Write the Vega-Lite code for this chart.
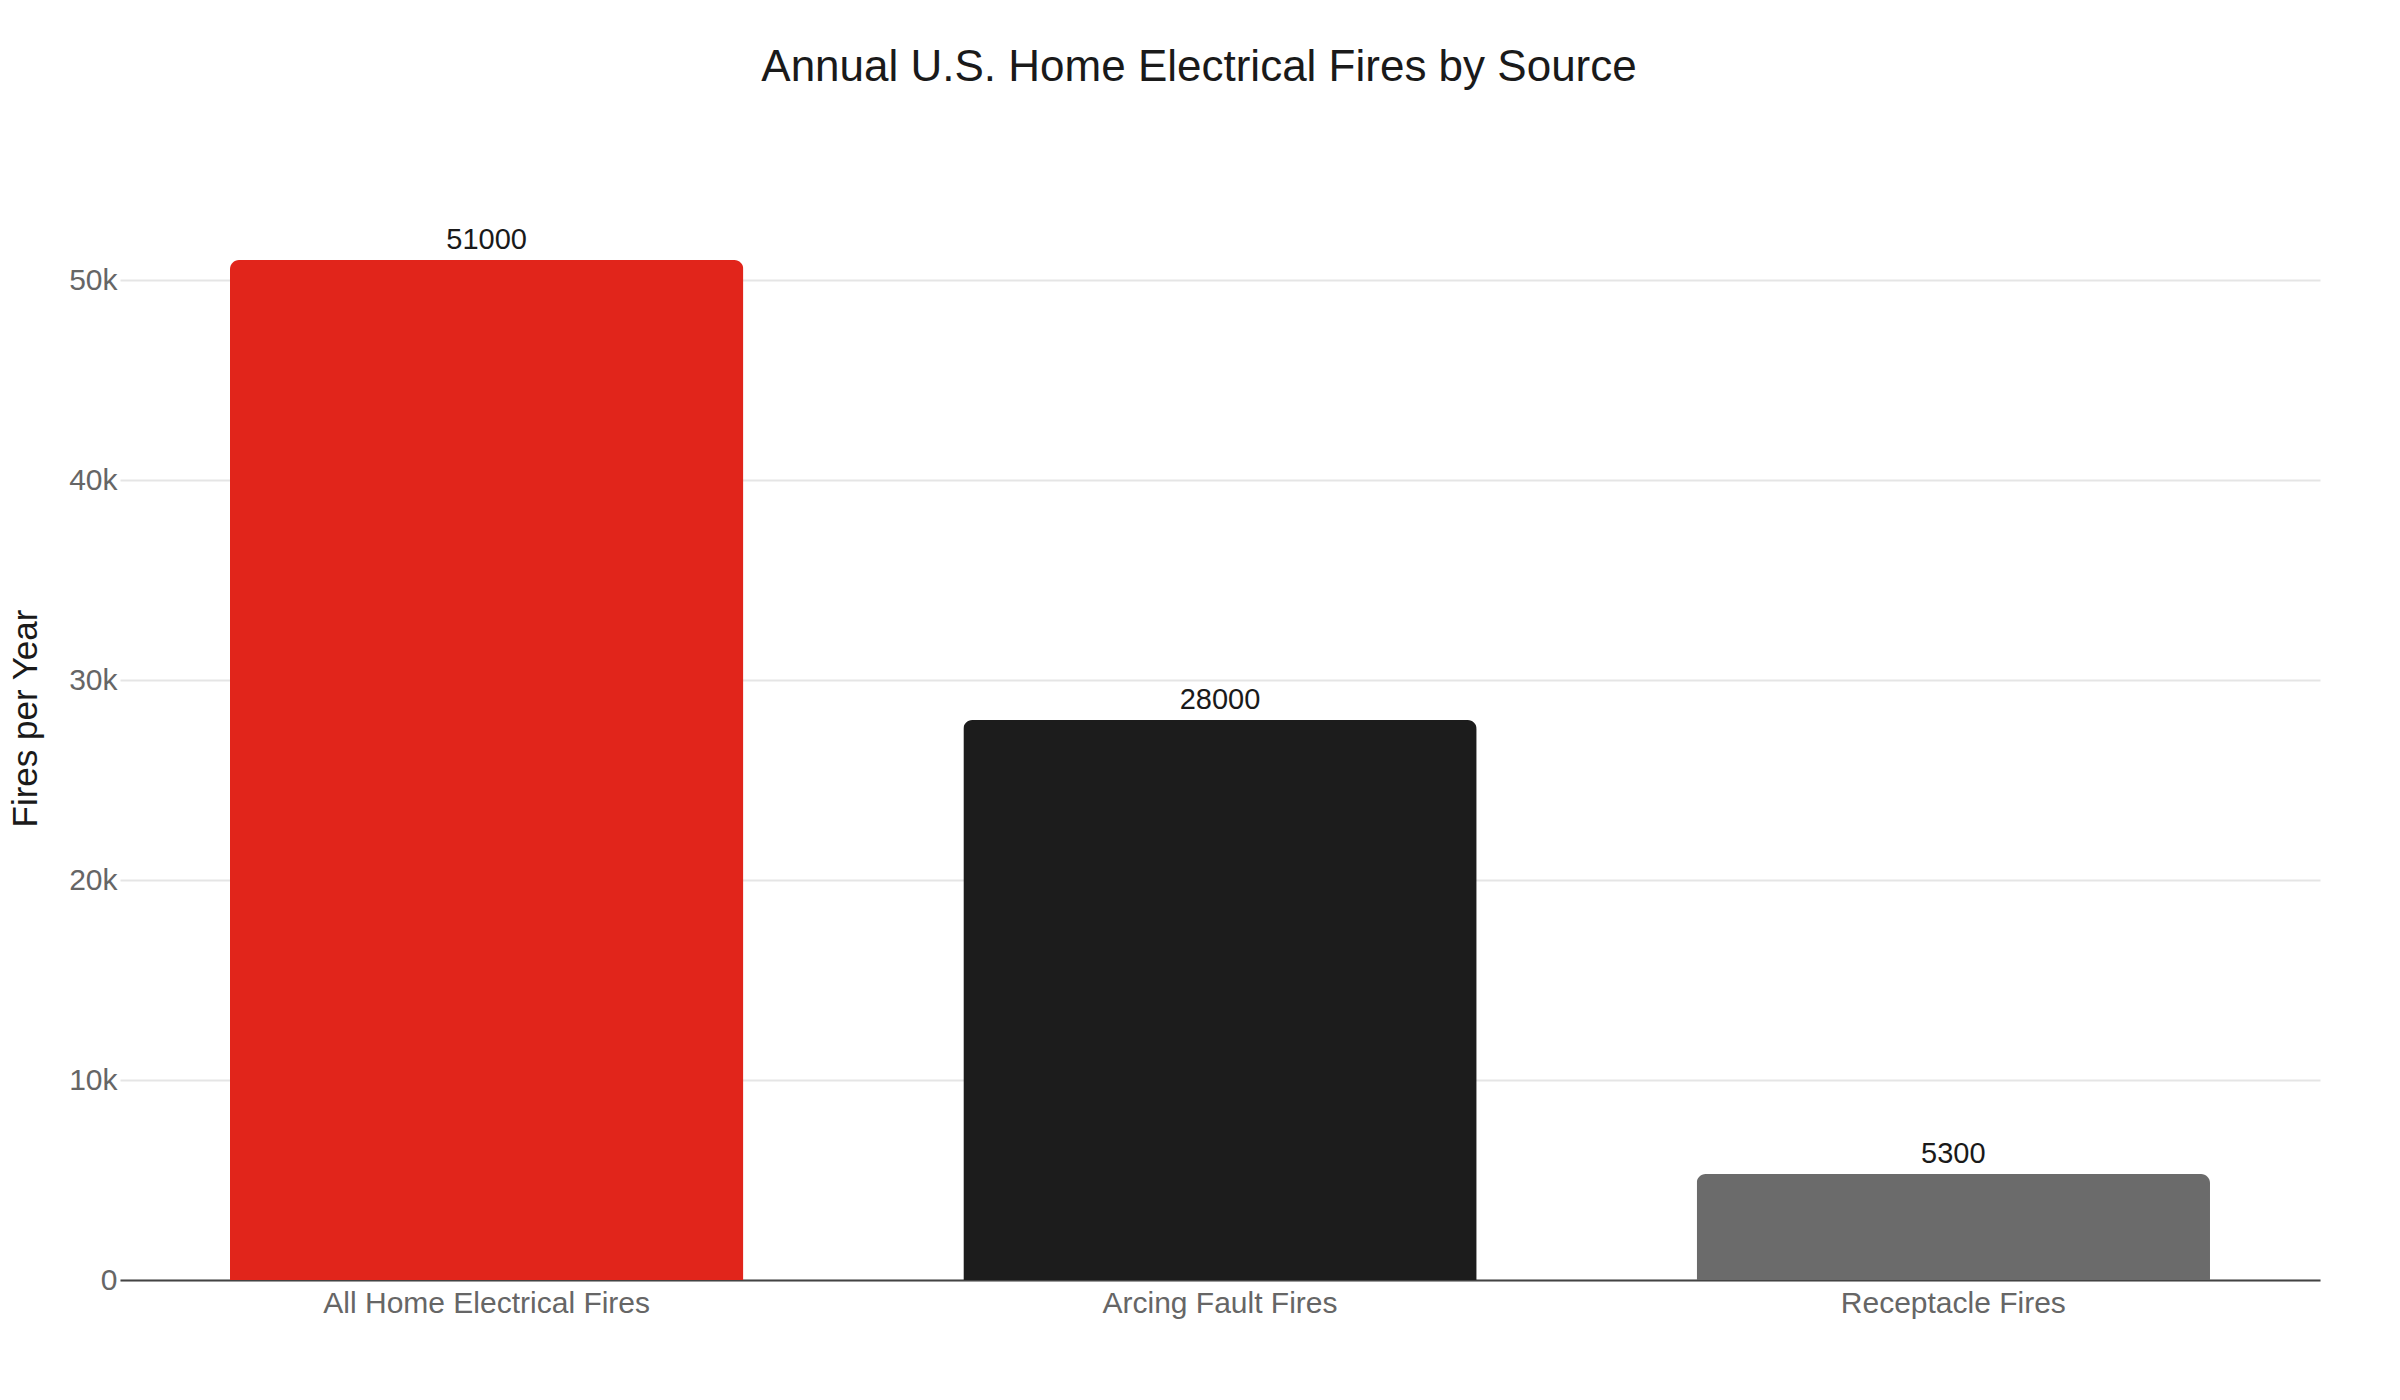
{
  "$schema": "https://vega.github.io/schema/vega-lite/v6.json",
  "autosize": {"type": "none"},
  "padding": {"left": 120, "top": 156, "right": 80, "bottom": 120},
  "width": 2200,
  "height": 1124,
  "background": "white",
  "title": {
    "text": "Annual U.S. Home Electrical Fires by Source",
    "fontSize": 44,
    "font": "Liberation Sans",
    "fontWeight": "normal",
    "color": "#1a1a1a",
    "anchor": "middle",
    "baseline": "alphabetic",
    "offset": 31,
    "dx": -21
  },
  "data": {
    "values": [
      {"source": "All Home Electrical Fires", "fires": 51000},
      {"source": "Arcing Fault Fires", "fires": 28000},
      {"source": "Receptacle Fires", "fires": 5300}
    ]
  },
  "encoding": {
    "x": {
      "field": "source",
      "type": "nominal",
      "sort": null,
      "title": null,
      "scale": {"paddingInner": 0.3, "paddingOuter": 0.15},
      "axis": {
        "labelAngle": 0,
        "labelFontSize": 30,
        "labelColor": "#666666",
        "labelPadding": 8,
        "labelLimit": 0,
        "ticks": false,
        "domainColor": "#444444",
        "domainWidth": 2,
        "grid": false
      }
    },
    "y": {
      "field": "fires",
      "type": "quantitative",
      "title": "Fires per Year",
      "scale": {"domain": [0, 56200], "nice": false},
      "axis": {
        "values": [0, 10000, 20000, 30000, 40000, 50000],
        "labelExpr": "datum.value == 0 ? '0' : format(datum.value / 1000, 'd') + 'k'",
        "labelFontSize": 30,
        "labelColor": "#666666",
        "labelPadding": 3,
        "ticks": false,
        "domain": false,
        "gridColor": "#e5e5e5",
        "gridWidth": 2,
        "titleFontSize": 35,
        "titleFontWeight": "normal",
        "titleColor": "#1a1a1a",
        "titleAngle": -90,
        "titleBaseline": "middle",
        "titleAlign": "center",
        "titleX": -95,
        "titleY": 562
      }
    }
  },
  "layer": [
    {
      "mark": {"type": "bar", "cornerRadiusTopLeft": 9, "cornerRadiusTopRight": 9},
      "encoding": {
        "color": {
          "field": "source",
          "type": "nominal",
          "legend": null,
          "scale": {
            "domain": ["All Home Electrical Fires", "Arcing Fault Fires", "Receptacle Fires"],
            "range": ["#e1251b", "#1c1c1c", "#6b6b6b"]
          }
        }
      }
    },
    {
      "mark": {"type": "text", "baseline": "alphabetic", "dy": -11, "fontSize": 29, "color": "#1a1a1a"},
      "encoding": {
        "text": {"field": "fires", "type": "quantitative", "format": "d"}
      }
    }
  ],
  "config": {
    "font": "Liberation Sans",
    "view": {"stroke": null}
  }
}
